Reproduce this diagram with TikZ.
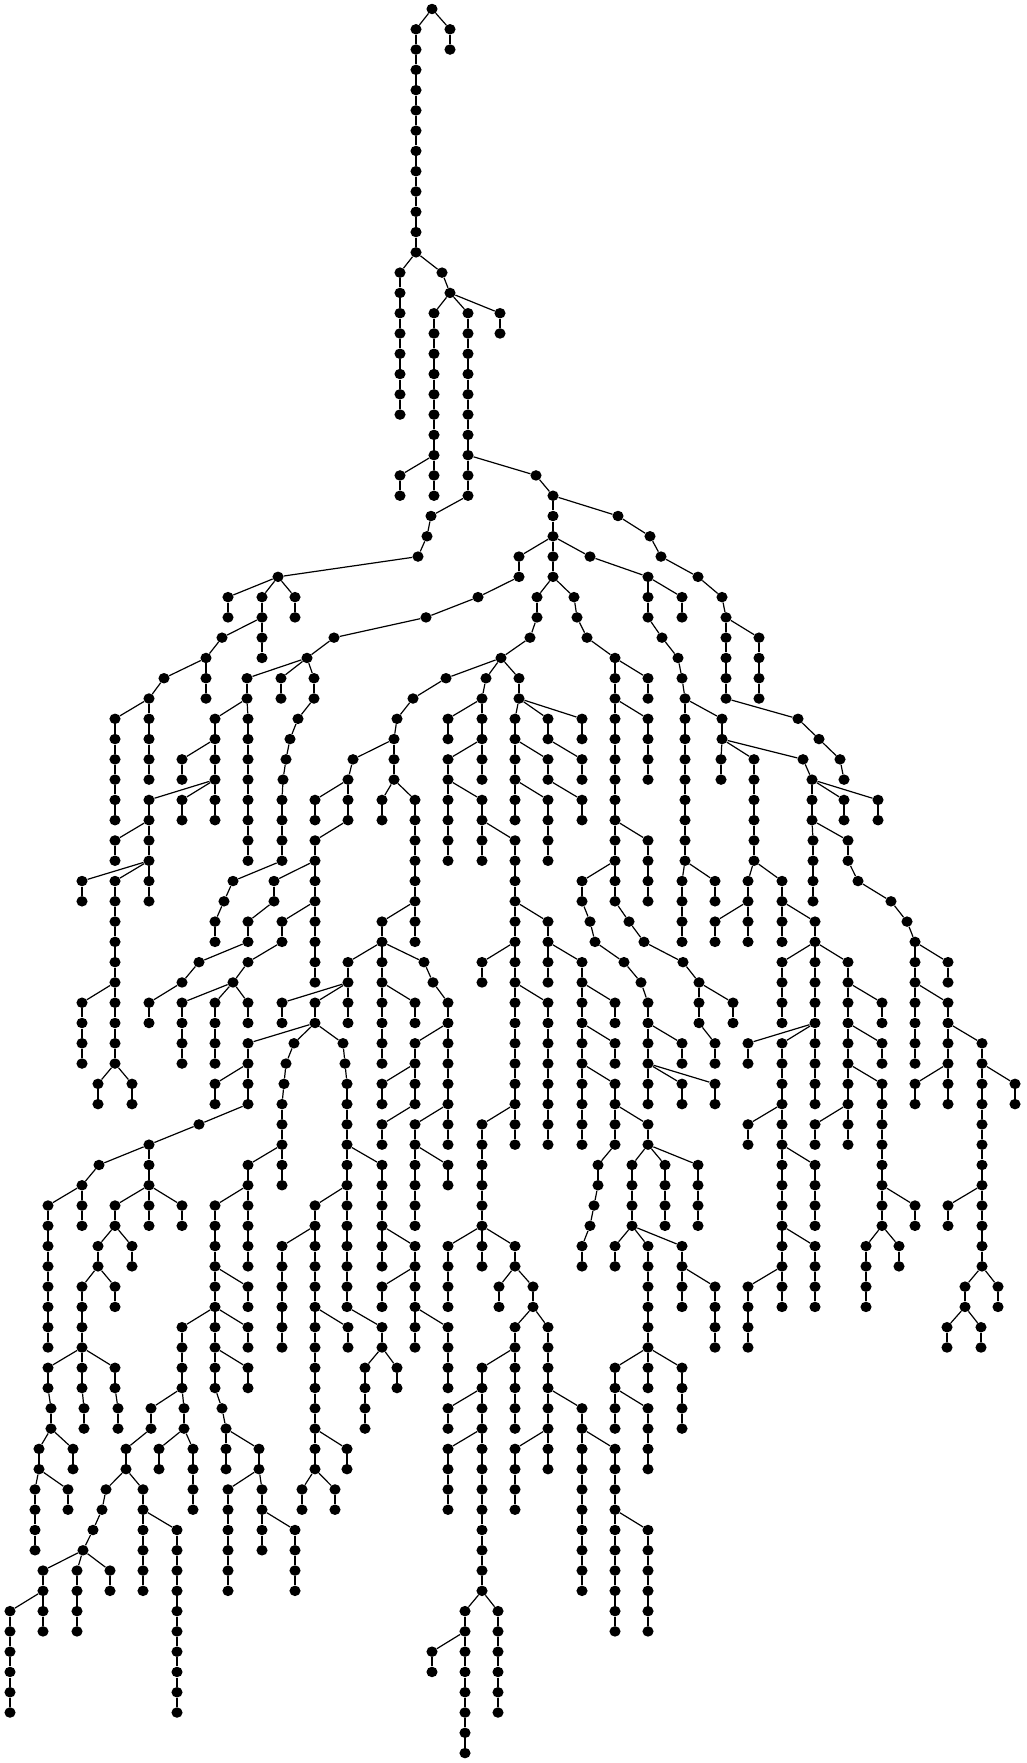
\documentclass[tikz,border=0pt]{standalone}
\usetikzlibrary{shapes.geometric}
\tikzset{pt/.style={ellipse,fill=black,draw=none,inner sep=0pt,minimum width=2.78mm,minimum height=2.62mm},
 ln/.style={line width=0.3mm,black}}
\newcommand\mkch[3]{%
  \foreach \r in {#2,...,#3}{\node[pt] (n#1-\r) at (#1,{9+20.28*\r}) {};}%
  \foreach \r in {#2,...,#3}{\ifnum\r>#2\relax\pgfmathtruncatemacro\p{\r-1}\draw[ln] (n#1-\p) -- (n#1-\r);\fi}%
}
\newcommand\mked[2]{\draw[ln] (n#1) -- (n#2);}
\begin{document}
\begin{tikzpicture}[x=0.25mm,y=-0.25mm]
\useasboundingbox (0,0) rectangle (1026,1763);
% ---- top
\mkch{432}{0}{0}\mkch{450}{1}{2}\mkch{416}{1}{12}\mkch{400}{13}{20}\mkch{442}{13}{13}\mkch{450}{14}{14}
\mkch{434}{15}{24}\mkch{468}{15}{24}\mkch{500}{15}{16}\mkch{400}{23}{24}\mkch{536}{23}{23}\mkch{553}{24}{28}
\mkch{618}{25}{25}\mkch{650}{26}{26}\mkch{661}{27}{27}\mkch{431}{25}{25}\mkch{427}{26}{26}\mkch{418}{27}{27}
\mkch{519}{27}{28}\mkch{590}{27}{27}\mkch{478}{29}{29}\mkch{426}{30}{30}\mkch{334}{31}{31}\mkch{307}{32}{32}
\mkch{537}{29}{30}\mkch{530}{31}{31}\mkch{501}{32}{32}\mkch{574}{29}{29}\mkch{577}{30}{30}\mkch{587}{31}{31}
\mkch{648}{28}{30}\mkch{682}{29}{30}\mkch{662}{31}{31}\mkch{678}{32}{32}\mkch{682}{33}{33}\mkch{685}{34}{42}
\mkch{698}{28}{28}\mkch{722}{29}{29}\mkch{726}{30}{34}\mkch{759}{31}{34}\mkch{798}{35}{35}\mkch{819}{36}{36}
\mkch{840}{37}{37}\mkch{844}{38}{38}\mkch{615}{32}{44}\mkch{648}{33}{34}\mkch{648}{35}{38}\mkch{648}{41}{44}
\mkch{446}{33}{33}\mkch{413}{34}{34}\mkch{397}{35}{35}\mkch{394}{36}{38}\mkch{353}{37}{37}\mkch{348}{38}{40}
\mkch{315}{39}{40}\mkch{315}{41}{48}\mkch{274}{43}{44}\mkch{248}{45}{46}\mkch{199}{47}{47}\mkch{182}{48}{48}
\mkch{149}{49}{50}\mkch{282}{45}{46}\mkch{248}{47}{47}\mkch{233}{48}{48}\mkch{382}{39}{40}\mkch{415}{39}{46}
\mkch{382}{45}{52}\mkch{348}{47}{50}\mkch{424}{47}{47}\mkch{433}{48}{48}\mkch{486}{33}{33}\mkch{482}{34}{38}
\mkch{448}{35}{36}\mkch{448}{37}{42}\mkch{482}{39}{42}\mkch{515}{41}{56}\mkch{519}{33}{34}\mkch{515}{35}{40}
\mkch{548}{35}{36}\mkch{582}{35}{36}\mkch{548}{37}{38}\mkch{582}{37}{38}\mkch{548}{39}{42}\mkch{582}{39}{40}
\mkch{548}{45}{48}\mkch{482}{47}{48}\mkch{582}{47}{56}\mkch{582}{43}{44}\mkch{590}{45}{45}\mkch{595}{46}{46}
\mkch{624}{47}{47}\mkch{641}{48}{48}\mkch{629}{45}{45}\mkch{644}{46}{46}\mkch{683}{47}{47}\mkch{699}{48}{50}
\mkch{733}{49}{50}\mkch{715}{51}{52}\mkch{722}{35}{36}\mkch{721}{37}{38}\mkch{754}{37}{42}\mkch{803}{37}{37}
\mkch{812}{38}{40}\mkch{844}{39}{40}\mkch{878}{39}{40}\mkch{813}{41}{44}\mkch{848}{41}{42}\mkch{858}{43}{43}
\mkch{891}{44}{44}\mkch{907}{45}{45}\mkch{915}{46}{52}\mkch{682}{43}{46}\mkch{715}{43}{44}\mkch{748}{43}{46}
\mkch{715}{45}{46}\mkch{782}{43}{46}\mkch{815}{45}{54}\mkch{848}{47}{56}\mkch{882}{49}{50}\mkch{882}{51}{52}
\mkch{882}{53}{60}\mkch{915}{59}{60}\mkch{866}{61}{64}\mkch{899}{61}{62}\mkch{948}{47}{48}\mkch{948}{49}{54}
\mkch{982}{51}{62}\mkch{1015}{53}{54}\mkch{948}{59}{60}\mkch{965}{63}{64}\mkch{998}{63}{64}\mkch{947}{65}{66}
\mkch{981}{65}{66}\mkch{915}{53}{54}\mkch{782}{47}{50}\mkch{782}{51}{64}\mkch{748}{51}{52}\mkch{748}{55}{56}
\mkch{815}{55}{56}\mkch{815}{57}{60}\mkch{815}{61}{64}\mkch{748}{63}{66}
% ---- left upper
\mkch{278}{28}{28}\mkch{228}{29}{30}\mkch{262}{29}{32}\mkch{295}{29}{30}\mkch{222}{31}{31}\mkch{206}{32}{34}
\mkch{164}{33}{33}\mkch{149}{34}{38}\mkch{115}{35}{40}\mkch{247}{33}{34}\mkch{281}{33}{34}\mkch{314}{33}{34}
\mkch{215}{35}{40}\mkch{248}{35}{42}\mkch{182}{37}{38}\mkch{182}{39}{40}\mkch{149}{39}{44}\mkch{115}{41}{42}
\mkch{82}{43}{44}\mkch{115}{43}{52}\mkch{298}{35}{35}\mkch{290}{36}{36}\mkch{286}{37}{37}\mkch{283}{38}{38}
\mkch{282}{39}{42}\mkch{233}{43}{43}\mkch{224}{44}{44}\mkch{215}{45}{46}
% ---- left middle
\mkch{82}{49}{52}\mkch{98}{53}{54}\mkch{132}{53}{54}\mkch{182}{49}{52}\mkch{215}{49}{52}\mkch{248}{49}{50}
\mkch{282}{49}{50}\mkch{315}{49}{50}\mkch{248}{51}{54}\mkch{294}{51}{51}\mkch{343}{51}{51}\mkch{215}{53}{54}
\mkch{199}{55}{55}\mkch{149}{56}{60}\mkch{99}{57}{57}\mkch{82}{58}{60}\mkch{48}{59}{66}\mkch{115}{59}{60}
\mkch{182}{59}{60}\mkch{286}{52}{52}\mkch{284}{53}{53}\mkch{282}{54}{58}\mkch{248}{57}{62}\mkch{215}{59}{68}
\mkch{248}{63}{64}\mkch{182}{65}{68}\mkch{248}{65}{66}\mkch{248}{67}{68}\mkch{345}{52}{52}\mkch{347}{53}{64}
\mkch{382}{57}{62}\mkch{315}{59}{72}\mkch{282}{61}{66}\mkch{348}{65}{66}\mkch{382}{65}{66}\mkch{365}{67}{70}
\mkch{397}{67}{68}\mkch{98}{61}{62}\mkch{132}{61}{62}\mkch{82}{63}{68}\mkch{115}{63}{64}\mkch{48}{67}{68}
\mkch{115}{67}{68}
% ---- centre
\mkch{415}{49}{50}\mkch{415}{51}{54}\mkch{415}{55}{60}\mkch{415}{61}{66}\mkch{382}{53}{54}\mkch{382}{55}{56}
\mkch{382}{63}{64}\mkch{448}{49}{56}\mkch{448}{57}{58}\mkch{448}{61}{64}\mkch{448}{65}{68}\mkch{448}{69}{70}
\mkch{448}{71}{74}\mkch{482}{55}{62}\mkch{482}{67}{78}\mkch{515}{61}{62}\mkch{499}{63}{64}\mkch{533}{63}{64}
\mkch{515}{65}{70}\mkch{548}{65}{72}\mkch{515}{71}{74}\mkch{548}{49}{56}\mkch{582}{61}{62}\mkch{582}{69}{78}
\mkch{615}{49}{50}\mkch{615}{51}{52}\mkch{615}{53}{56}\mkch{598}{57}{58}\mkch{594}{59}{59}\mkch{590}{60}{60}
\mkch{648}{49}{54}\mkch{648}{55}{56}\mkch{632}{57}{60}\mkch{665}{57}{60}\mkch{698}{57}{60}\mkch{615}{61}{62}
\mkch{648}{61}{68}\mkch{682}{61}{64}\mkch{715}{63}{66}\mkch{682}{67}{70}\mkch{615}{67}{70}\mkch{648}{69}{72}
\mkch{682}{51}{52}\mkch{682}{53}{54}\mkch{715}{53}{54}
% ---- bottom
\mkch{51}{69}{70}\mkch{39}{71}{72}\mkch{73}{71}{72}\mkch{35}{73}{76}\mkch{68}{73}{74}\mkch{84}{69}{70}
\mkch{118}{69}{70}\mkch{151}{69}{70}\mkch{126}{71}{72}\mkch{106}{73}{73}\mkch{102}{74}{74}\mkch{93}{75}{75}
\mkch{83}{76}{76}\mkch{43}{77}{80}\mkch{77}{77}{80}\mkch{110}{77}{78}\mkch{10}{79}{84}\mkch{143}{73}{78}
\mkch{177}{75}{84}\mkch{184}{69}{70}\mkch{159}{71}{72}\mkch{193}{71}{74}\mkch{222}{69}{69}\mkch{226}{70}{72}
\mkch{259}{71}{72}\mkch{228}{73}{78}\mkch{262}{73}{76}\mkch{295}{75}{78}\mkch{347}{71}{72}\mkch{302}{73}{74}
\mkch{335}{73}{74}\mkch{465}{79}{86}\mkch{498}{79}{84}\mkch{432}{81}{82}\mkch{615}{71}{80}\mkch{648}{75}{80}
% ---- branch edges
\mked{432-0}{450-1}\mked{432-0}{416-1}
\mked{416-12}{400-13}\mked{416-12}{442-13}\mked{442-13}{450-14}
\mked{450-14}{434-15}\mked{450-14}{468-15}\mked{450-14}{500-15}
\mked{434-22}{400-23}\mked{468-22}{536-23}\mked{536-23}{553-24}
\mked{553-24}{618-25}\mked{618-25}{650-26}\mked{650-26}{661-27}\mked{661-27}{698-28}
\mked{468-24}{431-25}\mked{431-25}{427-26}\mked{427-26}{418-27}\mked{418-27}{278-28}
\mked{553-26}{519-27}\mked{553-26}{590-27}
\mked{519-28}{478-29}\mked{478-29}{426-30}\mked{426-30}{334-31}\mked{334-31}{307-32}
\mked{553-28}{537-29}\mked{553-28}{574-29}
\mked{537-30}{530-31}\mked{530-31}{501-32}
\mked{574-29}{577-30}\mked{577-30}{587-31}\mked{587-31}{615-32}
\mked{590-27}{648-28}\mked{648-28}{682-29}
\mked{648-30}{662-31}\mked{662-31}{678-32}\mked{678-32}{682-33}\mked{682-33}{685-34}
\mked{698-28}{722-29}\mked{722-29}{726-30}\mked{726-30}{759-31}
\mked{726-34}{798-35}\mked{798-35}{819-36}\mked{819-36}{840-37}\mked{840-37}{844-38}
\mked{501-32}{446-33}\mked{501-32}{486-33}\mked{501-32}{519-33}
\mked{446-33}{413-34}\mked{413-34}{397-35}\mked{397-35}{394-36}
\mked{394-36}{353-37}\mked{353-37}{348-38}
\mked{348-38}{315-39}\mked{348-40}{315-41}
\mked{315-42}{274-43}\mked{274-44}{248-45}\mked{248-46}{199-47}\mked{199-47}{182-48}\mked{182-48}{149-49}
\mked{315-44}{282-45}\mked{282-46}{248-47}\mked{248-47}{233-48}
\mked{394-38}{382-39}\mked{394-38}{415-39}\mked{415-44}{382-45}
\mked{382-46}{348-47}\mked{382-46}{424-47}\mked{424-47}{433-48}\mked{433-48}{448-49}
\mked{486-33}{482-34}\mked{482-34}{448-35}\mked{482-36}{448-37}\mked{448-38}{482-39}\mked{482-40}{515-41}
\mked{519-34}{515-35}\mked{519-34}{548-35}\mked{519-34}{582-35}
\mked{515-36}{548-37}\mked{548-36}{582-37}\mked{515-38}{548-39}\mked{548-38}{582-39}
\mked{515-44}{548-45}\mked{515-46}{482-47}\mked{548-46}{582-47}
\mked{615-32}{648-33}\mked{615-34}{648-35}\mked{615-40}{648-41}
\mked{615-42}{582-43}\mked{582-44}{590-45}\mked{590-45}{595-46}\mked{595-46}{624-47}\mked{624-47}{641-48}\mked{641-48}{648-49}
\mked{615-44}{629-45}\mked{629-45}{644-46}\mked{644-46}{683-47}\mked{683-47}{699-48}
\mked{699-48}{733-49}\mked{699-50}{715-51}
\mked{685-34}{722-35}
\mked{722-36}{721-37}\mked{722-36}{754-37}\mked{722-36}{803-37}\mked{803-37}{812-38}
\mked{812-38}{844-39}\mked{812-38}{878-39}
\mked{812-40}{813-41}\mked{812-40}{848-41}\mked{848-42}{858-43}\mked{858-43}{891-44}\mked{891-44}{907-45}\mked{907-45}{915-46}
\mked{685-42}{682-43}\mked{685-42}{715-43}
\mked{754-42}{748-43}\mked{754-42}{782-43}
\mked{748-44}{715-45}\mked{782-44}{815-45}
\mked{815-46}{782-47}\mked{815-46}{848-47}
\mked{815-50}{748-51}\mked{815-50}{782-51}
\mked{782-54}{748-55}\mked{782-56}{815-57}\mked{782-60}{815-61}\mked{782-62}{748-63}
\mked{848-48}{882-49}\mked{848-50}{882-51}\mked{848-52}{882-53}\mked{848-54}{815-55}
\mked{882-58}{915-59}\mked{882-60}{866-61}\mked{882-60}{899-61}
\mked{915-46}{948-47}\mked{915-48}{948-49}\mked{948-50}{982-51}\mked{948-52}{915-53}\mked{982-52}{1015-53}
\mked{982-58}{948-59}\mked{982-62}{965-63}\mked{982-62}{998-63}\mked{965-64}{947-65}\mked{965-64}{981-65}
\mked{278-28}{228-29}\mked{278-28}{262-29}\mked{278-28}{295-29}
\mked{262-30}{222-31}\mked{222-31}{206-32}\mked{206-32}{164-33}\mked{164-33}{149-34}\mked{149-34}{115-35}
\mked{307-32}{247-33}\mked{307-32}{281-33}\mked{307-32}{314-33}
\mked{247-34}{215-35}\mked{247-34}{248-35}
\mked{215-36}{182-37}\mked{215-38}{182-39}\mked{215-38}{149-39}
\mked{149-40}{115-41}\mked{149-42}{82-43}\mked{149-42}{115-43}
\mked{314-34}{298-35}\mked{298-35}{290-36}\mked{290-36}{286-37}\mked{286-37}{283-38}\mked{283-38}{282-39}
\mked{282-42}{233-43}\mked{233-43}{224-44}\mked{224-44}{215-45}
\mked{115-48}{82-49}\mked{115-52}{98-53}\mked{115-52}{132-53}
\mked{233-48}{182-49}\mked{233-48}{215-49}\mked{233-48}{248-49}
\mked{348-48}{282-49}\mked{348-48}{315-49}
\mked{315-50}{248-51}\mked{315-50}{294-51}\mked{315-50}{343-51}
\mked{248-52}{215-53}\mked{248-54}{199-55}\mked{199-55}{149-56}
\mked{149-56}{99-57}\mked{99-57}{82-58}\mked{82-58}{48-59}
\mked{149-58}{115-59}\mked{149-58}{182-59}
\mked{115-60}{98-61}\mked{115-60}{132-61}\mked{98-62}{82-63}\mked{98-62}{115-63}
\mked{82-66}{48-67}\mked{82-66}{115-67}\mked{48-68}{51-69}\mked{82-68}{84-69}\mked{115-68}{118-69}
\mked{294-51}{286-52}\mked{286-52}{284-53}\mked{284-53}{282-54}
\mked{282-56}{248-57}\mked{248-58}{215-59}
\mked{215-62}{248-63}\mked{215-64}{182-65}\mked{215-64}{248-65}\mked{215-66}{248-67}
\mked{182-68}{151-69}\mked{182-68}{184-69}\mked{215-68}{222-69}
\mked{343-51}{345-52}\mked{345-52}{347-53}
\mked{347-56}{382-57}\mked{347-58}{315-59}\mked{347-64}{382-65}
\mked{315-60}{282-61}\mked{315-64}{348-65}
\mked{382-66}{365-67}\mked{382-66}{397-67}
\mked{382-48}{415-49}
\mked{448-50}{415-51}\mked{415-52}{382-53}\mked{415-54}{382-55}\mked{448-54}{415-55}
\mked{415-56}{448-57}\mked{382-60}{415-61}\mked{415-62}{382-63}\mked{415-64}{448-65}
\mked{515-54}{482-55}\mked{482-60}{448-61}\mked{482-60}{515-61}
\mked{515-62}{499-63}\mked{515-62}{533-63}\mked{533-64}{515-65}\mked{533-64}{548-65}
\mked{515-66}{482-67}\mked{482-68}{448-69}\mked{548-68}{582-69}
\mked{515-48}{548-49}
\mked{582-48}{615-49}\mked{582-50}{615-51}\mked{582-52}{615-53}
\mked{615-54}{648-55}\mked{615-56}{598-57}\mked{598-58}{594-59}\mked{594-59}{590-60}\mked{590-60}{582-61}
\mked{648-50}{682-51}\mked{648-52}{682-53}\mked{648-52}{715-53}
\mked{648-56}{632-57}\mked{648-56}{665-57}\mked{648-56}{698-57}
\mked{632-60}{615-61}\mked{632-60}{648-61}\mked{632-60}{682-61}
\mked{682-62}{715-63}
\mked{648-66}{615-67}\mked{648-66}{682-67}\mked{615-68}{648-69}
\mked{51-70}{39-71}\mked{51-70}{73-71}\mked{39-72}{35-73}\mked{39-72}{68-73}
\mked{151-70}{126-71}\mked{126-72}{106-73}\mked{106-73}{102-74}\mked{102-74}{93-75}\mked{93-75}{83-76}
\mked{83-76}{43-77}\mked{83-76}{77-77}\mked{83-76}{110-77}
\mked{126-72}{143-73}\mked{143-74}{177-75}
\mked{43-78}{10-79}
\mked{184-70}{159-71}\mked{184-70}{193-71}
\mked{222-69}{226-70}\mked{226-70}{259-71}\mked{259-72}{228-73}\mked{259-72}{262-73}\mked{262-74}{295-75}
\mked{315-70}{347-71}\mked{315-72}{302-73}\mked{315-72}{335-73}
\mked{482-70}{448-71}\mked{482-78}{465-79}\mked{482-78}{498-79}\mked{465-80}{432-81}
\mked{548-70}{515-71}
\mked{582-70}{615-71}\mked{615-74}{648-75}
\end{tikzpicture}
\end{document}
